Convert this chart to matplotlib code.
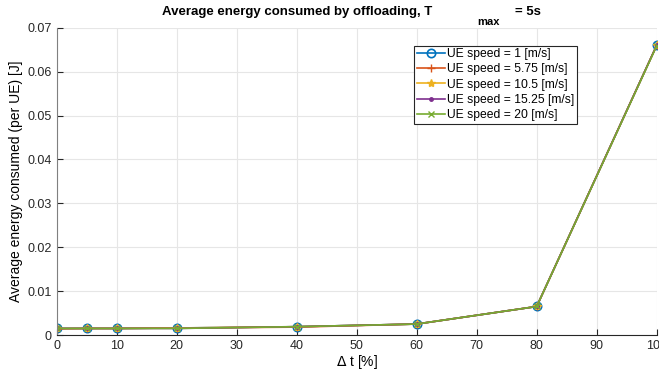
import matplotlib.pyplot as plt

plt.rcParams["font.family"] = ["Liberation Sans", "DejaVu Sans"]

delta_t = [0, 5, 10, 20, 40, 60, 80, 100]
speed_labels = ["UE speed = 1 [m/s]", "UE speed = 5.75 [m/s]", "UE speed = 10.5 [m/s]",
                "UE speed = 15.25 [m/s]", "UE speed = 20 [m/s]"]
energy_v1 = [0.0015, 0.0015, 0.0015, 0.0016, 0.0019, 0.0025, 0.0065, 0.0660]
energy_v2 = [0.0014, 0.0015, 0.0015, 0.0016, 0.0018, 0.0025, 0.0065, 0.0660]
energy_v3 = [0.0015, 0.0015, 0.0015, 0.0016, 0.0019, 0.0025, 0.0065, 0.0660]
energy_v4 = [0.0015, 0.0015, 0.0015, 0.0015, 0.0019, 0.0025, 0.0065, 0.0660]
energy_v5 = [0.0015, 0.0015, 0.0015, 0.0015, 0.0019, 0.0025, 0.0065, 0.0659]

colors = ["#0072BD", "#D95319", "#EDB120", "#7E2F8E", "#77AC30"]
styles = [
    dict(marker="o", markerfacecolor="none", markersize=6, markeredgewidth=1.2),
    dict(marker="+", markersize=6),
    dict(marker="*", markersize=6),
    dict(marker=".", markersize=5),
    dict(marker="x", markersize=5),
]

fig = plt.figure(figsize=(6.59, 3.76), dpi=100)
ax = fig.add_axes([0.086, 0.109, 0.9105, 0.817])

series = [energy_v1, energy_v2, energy_v3, energy_v4, energy_v5]
for vals, lab, c, st in zip(series, speed_labels, colors, styles):
    ax.plot(delta_t, vals, color=c, linewidth=1.2, label=lab, **st)

ax.set_xlim(0, 100)
ax.set_ylim(0, 0.07)
ax.set_xticks(range(0, 101, 10))
ax.set_yticks([0, 0.01, 0.02, 0.03, 0.04, 0.05, 0.06, 0.07])
ax.set_yticklabels(["0", "0.01", "0.02", "0.03", "0.04", "0.05", "0.06", "0.07"])
ax.grid(True, color="#e6e6e6", linewidth=0.8)
ax.set_axisbelow(True)
for s in ["top", "right"]:
    ax.spines[s].set_visible(False)
ax.spines["left"].set_color("#808080")
ax.spines["bottom"].set_color("#262626")
ax.tick_params(direction="in", labelsize=9, colors="#262626", length=4)

ax.set_xlabel("$\\Delta$ t [%]", fontsize=10, labelpad=1)
ax.set_ylabel("Average energy consumed (per UE) [J]", fontsize=10, labelpad=3)

leg = ax.legend(loc="upper left", bbox_to_anchor=(0.586, 0.962), fontsize=8.7,
                frameon=True, fancybox=False, edgecolor="#262626", framealpha=1,
                borderpad=0.2, labelspacing=0.28, handlelength=2.3, handletextpad=0.2)
leg.get_frame().set_linewidth(0.8)

fig.text(0.246, 0.967, "Average energy consumed by offloading, T", fontsize=9.5,
         fontweight="bold", va="center", ha="left")
fig.text(0.724, 0.942, "max", fontsize=8, fontweight="bold", va="center", ha="left")
fig.text(0.781, 0.967, "= 5s", fontsize=9.5, fontweight="bold", va="center", ha="left")

fig.savefig("out.png", dpi=100)
